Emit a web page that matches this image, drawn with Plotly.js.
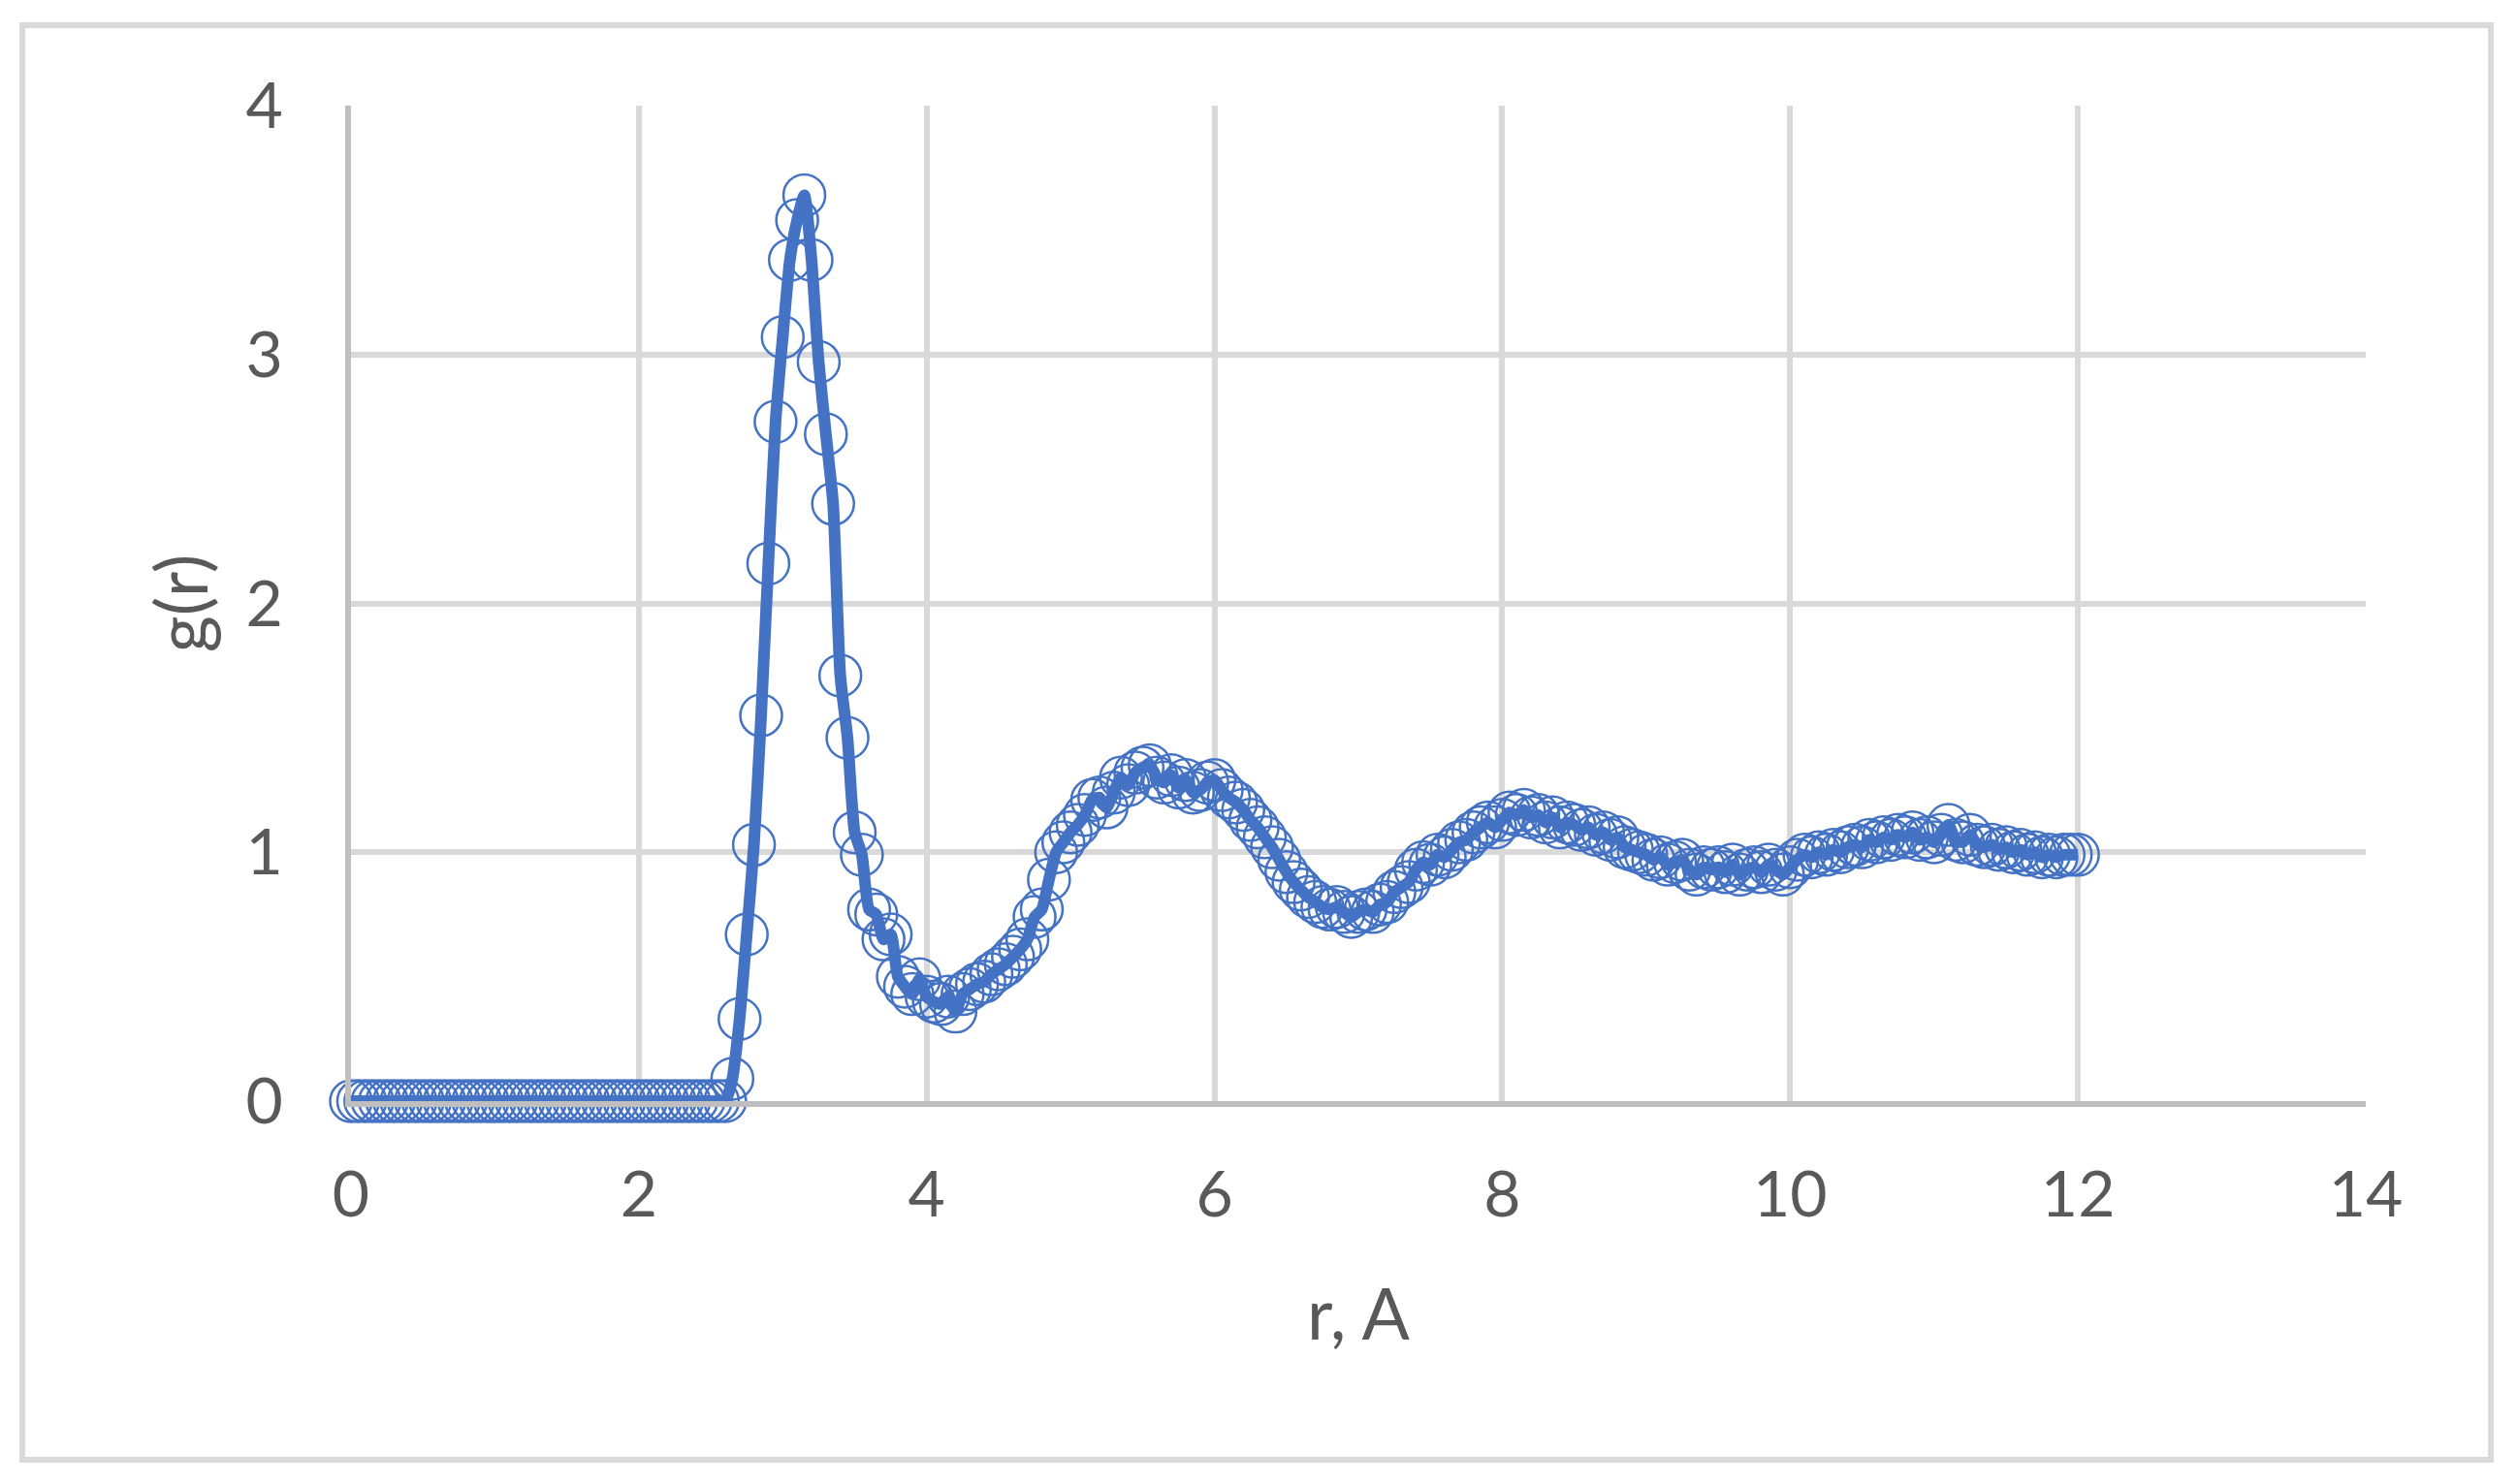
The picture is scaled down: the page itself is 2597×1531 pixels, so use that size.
<!DOCTYPE html>
<html>
<head>
<meta charset="utf-8">
<script src="https://cdn.plot.ly/plotly-3.0.1.min.js"></script>
<style>
  html, body { margin: 0; padding: 0; background: #ffffff; }
  #chart { width: 2597px; height: 1531px; }
</style>
</head>
<body>
<div id="chart"></div>
<script>
// Radial distance r (Å)
const rValues = [
  0.00, 0.05, 0.10, 0.15, 0.20, 0.25, 0.30, 0.35, 0.40, 0.45,
  0.50, 0.55, 0.60, 0.65, 0.70, 0.75, 0.80, 0.85, 0.90, 0.95,
  1.00, 1.05, 1.10, 1.15, 1.20, 1.25, 1.30, 1.35, 1.40, 1.45,
  1.50, 1.55, 1.60, 1.65, 1.70, 1.75, 1.80, 1.85, 1.90, 1.95,
  2.00, 2.05, 2.10, 2.15, 2.20, 2.25, 2.30, 2.35, 2.40, 2.45,
  2.50, 2.55, 2.60, 2.65, 2.70, 2.75, 2.80, 2.85, 2.90, 2.95,
  3.00, 3.05, 3.10, 3.15, 3.20, 3.25, 3.30, 3.35, 3.40, 3.45,
  3.50, 3.55, 3.60, 3.65, 3.70, 3.75, 3.80, 3.85, 3.90, 3.95,
  4.00, 4.05, 4.10, 4.15, 4.20, 4.25, 4.30, 4.35, 4.40, 4.45,
  4.50, 4.55, 4.60, 4.65, 4.70, 4.75, 4.80, 4.85, 4.90, 4.95,
  5.00, 5.05, 5.10, 5.15, 5.20, 5.25, 5.30, 5.35, 5.40, 5.45,
  5.50, 5.55, 5.60, 5.65, 5.70, 5.75, 5.80, 5.85, 5.90, 5.95,
  6.00, 6.05, 6.10, 6.15, 6.20, 6.25, 6.30, 6.35, 6.40, 6.45,
  6.50, 6.55, 6.60, 6.65, 6.70, 6.75, 6.80, 6.85, 6.90, 6.95,
  7.00, 7.05, 7.10, 7.15, 7.20, 7.25, 7.30, 7.35, 7.40, 7.45,
  7.50, 7.55, 7.60, 7.65, 7.70, 7.75, 7.80, 7.85, 7.90, 7.95,
  8.00, 8.05, 8.10, 8.15, 8.20, 8.25, 8.30, 8.35, 8.40, 8.45,
  8.50, 8.55, 8.60, 8.65, 8.70, 8.75, 8.80, 8.85, 8.90, 8.95,
  9.00, 9.05, 9.10, 9.15, 9.20, 9.25, 9.30, 9.35, 9.40, 9.45,
  9.50, 9.55, 9.60, 9.65, 9.70, 9.75, 9.80, 9.85, 9.90, 9.95,
  10.00, 10.05, 10.10, 10.15, 10.20, 10.25, 10.30, 10.35, 10.40, 10.45,
  10.50, 10.55, 10.60, 10.65, 10.70, 10.75, 10.80, 10.85, 10.90, 10.95,
  11.00, 11.05, 11.10, 11.15, 11.20, 11.25, 11.30, 11.35, 11.40, 11.45,
  11.50, 11.55, 11.60, 11.65, 11.70, 11.75, 11.80, 11.85, 11.90, 11.95,
  12.00
];

// Radial distribution function g(r)
const gValues = [
  0, 0, 0, 0, 0, 0, 0, 0, 0, 0,
  0, 0, 0, 0, 0, 0, 0, 0, 0, 0,
  0, 0, 0, 0, 0, 0, 0, 0, 0, 0,
  0, 0, 0, 0, 0, 0, 0, 0, 0, 0,
  0, 0, 0, 0, 0, 0, 0, 0, 0, 0,
  0, 0, 0, 0.09, 0.33, 0.67, 1.03, 1.55, 2.16, 2.73,
  3.07, 3.38, 3.54, 3.64, 3.38, 2.97, 2.68, 2.40, 1.71, 1.46,
  1.08, 0.99, 0.77, 0.75, 0.65, 0.67, 0.50, 0.46, 0.43, 0.49,
  0.42, 0.40, 0.39, 0.42, 0.36, 0.43, 0.45, 0.47, 0.48, 0.51,
  0.53, 0.55, 0.58, 0.61, 0.65, 0.74, 0.77, 0.89, 1.00, 1.04,
  1.08, 1.11, 1.15, 1.21, 1.22, 1.18, 1.24, 1.30, 1.27, 1.32,
  1.34, 1.35, 1.30, 1.28, 1.31, 1.26, 1.29, 1.24, 1.25, 1.28,
  1.29, 1.25, 1.22, 1.20, 1.17, 1.13, 1.10, 1.06, 1.02, 0.97,
  0.92, 0.88, 0.85, 0.82, 0.80, 0.78, 0.77, 0.78, 0.76, 0.74,
  0.76, 0.77, 0.76, 0.79, 0.80, 0.84, 0.86, 0.88, 0.93, 0.96,
  0.95, 0.99, 0.98, 1.01, 1.04, 1.05, 1.08, 1.10, 1.12, 1.10,
  1.13, 1.16, 1.15, 1.17, 1.14, 1.15, 1.12, 1.14, 1.10, 1.12,
  1.11, 1.09, 1.10, 1.07, 1.08, 1.05, 1.06, 1.02, 1.01, 1.00,
  0.99, 0.97, 0.98, 0.95, 0.96, 0.97, 0.93, 0.91, 0.94, 0.93,
  0.94, 0.92, 0.95, 0.91, 0.93, 0.94, 0.92, 0.95, 0.93, 0.91,
  0.94, 0.97, 0.99, 0.98, 1.00, 0.99, 1.01, 1.00, 1.02, 1.03,
  1.02, 1.05, 1.04, 1.06, 1.05, 1.07, 1.06, 1.08, 1.05, 1.06,
  1.04, 1.07, 1.11, 1.05, 1.04, 1.07, 1.03, 1.02, 1.03, 1.01,
  1.02, 1.00, 1.01, 0.99, 1.00, 0.98, 0.99, 0.98, 0.99, 0.99,
  0.99
];

const xTickValues = [0, 2, 4, 6, 8, 10, 12, 14];
const yTickValues = [0, 1, 2, 3, 4];

const seriesColor = '#4472c4';
const textColor = '#595959';
const gridColor = '#d9d9d9';
const axisColor = '#bfbfbf';
const fontFamily = 'Lato, "Open Sans", "Noto Sans", sans-serif';

const trace = {
  x: rValues,
  y: gValues,
  type: 'scatter',
  mode: 'lines+markers',
  cliponaxis: false,
  line: { color: seriesColor, width: 12, shape: 'spline', smoothing: 0.6 },
  marker: {
    symbol: 'circle-open',
    size: 43,
    color: seriesColor,
    line: { color: seriesColor, width: 2.5 }
  },
  showlegend: false,
  hoverinfo: 'x+y'
};

const layout = {
  width: 2597,
  height: 1531,
  margin: { l: 362, r: 157, t: 109, b: 395, pad: 0 },
  paper_bgcolor: '#ffffff',
  plot_bgcolor: '#ffffff',
  font: { family: fontFamily, color: textColor, size: 66 },
  showlegend: false,
  xaxis: {
    range: [0, 14],
    tickvals: xTickValues,
    ticktext: xTickValues.map(String),
    showgrid: true,
    gridcolor: gridColor,
    gridwidth: 6,
    zeroline: false,
    showline: true,
    linecolor: axisColor,
    linewidth: 6,
    ticks: 'outside',
    ticklen: 34,
    tickcolor: 'rgba(0,0,0,0)',
    tickfont: { family: fontFamily, size: 66, color: textColor },
    title: { text: 'r, A', font: { family: fontFamily, size: 73, color: textColor }, standoff: 65 },
    fixedrange: true
  },
  yaxis: {
    range: [0, 4],
    tickvals: yTickValues,
    ticktext: yTickValues.map(String),
    showgrid: true,
    gridcolor: gridColor,
    gridwidth: 6,
    zeroline: false,
    showline: true,
    linecolor: axisColor,
    linewidth: 6,
    ticks: 'outside',
    ticklen: 51,
    tickcolor: 'rgba(0,0,0,0)',
    tickfont: { family: fontFamily, size: 66, color: textColor },
    title: { text: 'g(r)', font: { family: fontFamily, size: 73, color: textColor }, standoff: 17 },
    fixedrange: true
  },
  shapes: [
    {
      type: 'rect',
      xref: 'paper', yref: 'paper',
      x0: -0.1631, x1: 1.0621,
      y0: -0.3603, y1: 1.0808,
      line: { color: gridColor, width: 6 },
      fillcolor: 'rgba(0,0,0,0)',
      layer: 'below'
    }
  ]
};

Plotly.newPlot('chart', [trace], layout, { displayModeBar: false, staticPlot: true });
</script>
</body>
</html>
